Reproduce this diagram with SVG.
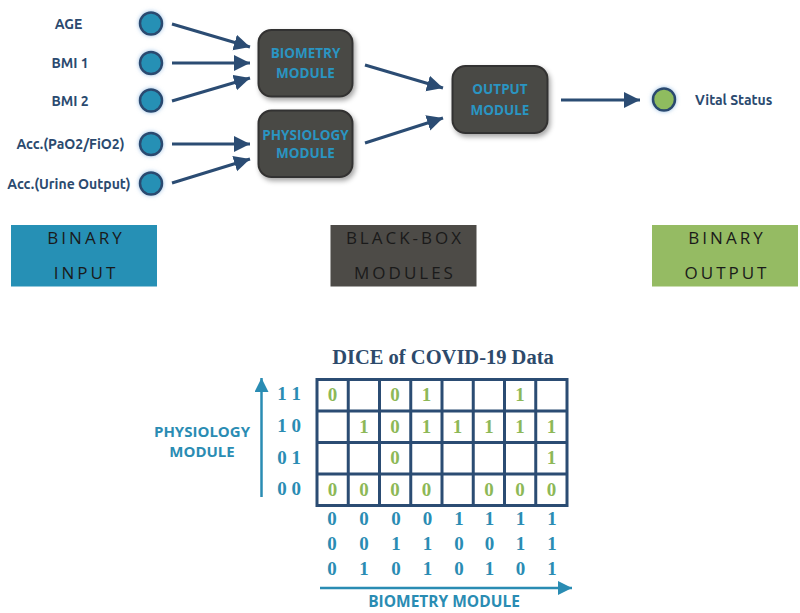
<svg xmlns="http://www.w3.org/2000/svg" width="800" height="613" viewBox="0 0 800 613">
<style>
.lbl{font-family:"Ubuntu","Open Sans","Liberation Sans",sans-serif;font-weight:bold;font-size:14px;fill:#2b4a6f;text-anchor:middle}
.mod{fill:#4a4845;stroke:#333230;stroke-width:2}
.modt{font-family:"Open Sans","Liberation Sans",sans-serif;font-weight:bold;font-size:13.5px;fill:#2a95c2;text-anchor:middle}
.in{fill:#2690b5;stroke:#2b4a6f;stroke-width:2.5}
.conn{stroke:#2b4c73;stroke-width:3;fill:none}
.leg{font-family:"Open Sans","Liberation Sans",sans-serif;font-size:17px;fill:#1a1a1a;text-anchor:middle;letter-spacing:3px}
.grid{stroke:#2b4c73;stroke-width:3;fill:#fff}
.gv{font-family:"Liberation Serif",serif;font-weight:bold;font-size:19px;fill:#8db857;text-anchor:middle}
.tv{font-family:"Liberation Serif",serif;font-weight:bold;font-size:19px;fill:#2a8cb3;text-anchor:middle}
.ax{stroke:#2a8cb3;stroke-width:2.5;fill:none}
.axt{font-family:"Open Sans","Liberation Sans",sans-serif;font-weight:bold;font-size:15px;fill:#2a8cb3;text-anchor:middle}
</style>
<defs>
<marker id="ah" markerUnits="userSpaceOnUse" markerWidth="18" markerHeight="18" refX="16" refY="8" orient="auto">
<path d="M0,0 L16,8 L0,16 Z" fill="#2b4c73"/>
</marker>
<marker id="ah2" markerUnits="userSpaceOnUse" markerWidth="18" markerHeight="18" refX="14" refY="7" orient="auto">
<path d="M0,0 L14,7 L0,14 Z" fill="#2a8cb3"/>
</marker>
<filter id="glow" x="-50%" y="-50%" width="200%" height="200%">
<feGaussianBlur in="SourceAlpha" stdDeviation="2" result="b"/>
<feFlood flood-color="#6fa3d6" flood-opacity="0.7" result="f"/>
<feComposite operator="in" in="f" in2="b" result="g"/>
<feMerge><feMergeNode in="g"/><feMergeNode in="SourceGraphic"/></feMerge>
</filter>
<filter id="sh" x="-20%" y="-20%" width="150%" height="150%">
<feGaussianBlur in="SourceAlpha" stdDeviation="2.5" result="b"/>
<feOffset in="b" dx="2" dy="3" result="o"/>
<feFlood flood-color="#000" flood-opacity="0.35" result="f"/>
<feComposite operator="in" in="f" in2="o" result="s"/>
<feMerge><feMergeNode in="s"/><feMergeNode in="SourceGraphic"/></feMerge>
</filter>
</defs>
<rect width="800" height="613" fill="#fff"/>

<g id="connectors">
<line class="conn" x1="172" y1="24" x2="250" y2="47" marker-end="url(#ah)"/>
<line class="conn" x1="172" y1="63" x2="250" y2="63" marker-end="url(#ah)"/>
<line class="conn" x1="172" y1="101" x2="250" y2="78" marker-end="url(#ah)"/>
<line class="conn" x1="172" y1="144" x2="250" y2="144" marker-end="url(#ah)"/>
<line class="conn" x1="172" y1="183" x2="250" y2="159" marker-end="url(#ah)"/>
<line class="conn" x1="365" y1="65" x2="443" y2="88" marker-end="url(#ah)"/>
<line class="conn" x1="365" y1="143" x2="443" y2="118" marker-end="url(#ah)"/>
<line class="conn" x1="561" y1="100" x2="640" y2="100" marker-end="url(#ah)"/>
</g>

<g id="in-age"><circle class="in" filter="url(#glow)" cx="151" cy="23.5" r="11"/><text class="lbl" x="68.5" y="28.5">AGE</text></g>
<g id="in-bmi1"><circle class="in" filter="url(#glow)" cx="151" cy="63" r="11"/><text class="lbl" x="70" y="68">BMI 1</text></g>
<g id="in-bmi2"><circle class="in" filter="url(#glow)" cx="151" cy="100.5" r="11"/><text class="lbl" x="70" y="105.5">BMI 2</text></g>
<g id="in-pao2"><circle class="in" filter="url(#glow)" cx="151" cy="144" r="11"/><text class="lbl" x="70.5" y="149">Acc.(PaO2/FiO2)</text></g>
<g id="in-urine"><circle class="in" filter="url(#glow)" cx="151" cy="183.5" r="11"/><text class="lbl" x="69" y="188.5">Acc.(Urine Output)</text></g>

<g id="biometry"><rect class="mod" filter="url(#sh)" x="258.5" y="30" width="94" height="66.5" rx="13"/><text class="modt" x="305.5" y="58">BIOMETRY</text><text class="modt" x="305.5" y="77.5">MODULE</text></g>
<g id="physiology"><rect class="mod" filter="url(#sh)" x="258.5" y="110.5" width="94" height="66.5" rx="13"/><text class="modt" x="305.5" y="139.5">PHYSIOLOGY</text><text class="modt" x="305.5" y="158">MODULE</text></g>
<g id="output"><rect class="mod" filter="url(#sh)" x="452.5" y="66" width="95" height="67" rx="13"/><text class="modt" x="500" y="94">OUTPUT</text><text class="modt" x="500" y="114.5">MODULE</text></g>
<g id="vital"><circle filter="url(#glow)" cx="664" cy="99.5" r="11" fill="#8fbc5e" stroke="#2b4a6f" stroke-width="2.5"/><text class="lbl" x="695" y="104.5" style="text-anchor:start">Vital Status</text></g>

<g id="legend-input"><rect x="11" y="225" width="146" height="61.5" fill="#2690b5"/><text class="leg" x="86" y="244">BINARY</text><text class="leg" x="86" y="279">INPUT</text></g>
<g id="legend-blackbox"><rect x="330.5" y="225" width="146" height="61.5" fill="#4d4b47"/><text class="leg" x="405" y="244">BLACK-BOX</text><text class="leg" x="405" y="279">MODULES</text></g>
<g id="legend-output"><rect x="652" y="225" width="146" height="61.5" fill="#95bb63"/><text class="leg" x="727" y="244">BINARY</text><text class="leg" x="727" y="279">OUTPUT</text></g>

<g id="dice">
<text x="443" y="364" style="font-family:'Liberation Serif',serif;font-weight:bold;font-size:20.5px;fill:#2d4a6b;text-anchor:middle">DICE of COVID-19 Data</text>
<rect class="grid" x="317" y="379.5" width="250" height="126"/>
<g class="grid">
<line x1="348.25" y1="379.5" x2="348.25" y2="505.5"/>
<line x1="379.5" y1="379.5" x2="379.5" y2="505.5"/>
<line x1="410.75" y1="379.5" x2="410.75" y2="505.5"/>
<line x1="442" y1="379.5" x2="442" y2="505.5"/>
<line x1="473.25" y1="379.5" x2="473.25" y2="505.5"/>
<line x1="504.5" y1="379.5" x2="504.5" y2="505.5"/>
<line x1="535.75" y1="379.5" x2="535.75" y2="505.5"/>
<line x1="317" y1="411" x2="567" y2="411"/>
<line x1="317" y1="442.5" x2="567" y2="442.5"/>
<line x1="317" y1="474" x2="567" y2="474"/>
</g>
<g class="gv">
<text x="332.6" y="401">0</text><text x="395.1" y="401">0</text><text x="426.4" y="401">1</text><text x="520.1" y="401">1</text>
<text x="363.9" y="432.5">1</text><text x="395.1" y="432.5">0</text><text x="426.4" y="432.5">1</text><text x="457.6" y="432.5">1</text><text x="488.9" y="432.5">1</text><text x="520.1" y="432.5">1</text><text x="551.4" y="432.5">1</text>
<text x="395.1" y="464">0</text><text x="551.4" y="464">1</text>
<text x="332.6" y="495.5">0</text><text x="363.9" y="495.5">0</text><text x="395.1" y="495.5">0</text><text x="426.4" y="495.5">0</text><text x="488.9" y="495.5">0</text><text x="520.1" y="495.5">0</text><text x="551.4" y="495.5">0</text>
</g>
<g class="tv">
<text x="289" y="400">1 1</text><text x="289" y="432">1 0</text><text x="289" y="464">0 1</text><text x="289" y="495">0 0</text>
<text x="332" y="525">0</text><text x="364" y="525">0</text><text x="396" y="525">0</text><text x="427.5" y="525">0</text><text x="459" y="525">1</text><text x="489.5" y="525">1</text><text x="520.5" y="525">1</text><text x="552" y="525">1</text>
<text x="332" y="550">0</text><text x="364" y="550">0</text><text x="396" y="550">1</text><text x="427.5" y="550">1</text><text x="459" y="550">0</text><text x="489.5" y="550">0</text><text x="520.5" y="550">1</text><text x="552" y="550">1</text>
<text x="332" y="575">0</text><text x="364" y="575">1</text><text x="396" y="575">0</text><text x="427.5" y="575">1</text><text x="459" y="575">0</text><text x="489.5" y="575">1</text><text x="520.5" y="575">0</text><text x="552" y="575">1</text>
</g>
<line class="ax" x1="261.5" y1="497" x2="261.5" y2="378" marker-end="url(#ah2)"/>
<text class="axt" x="202" y="436.5">PHYSIOLOGY</text>
<text class="axt" x="202" y="456.5">MODULE</text>
<line class="ax" x1="320" y1="588" x2="572" y2="588" marker-end="url(#ah2)"/>
<text class="axt" x="444" y="606.5" style="font-size:15.5px">BIOMETRY MODULE</text>
</g>
</svg>
